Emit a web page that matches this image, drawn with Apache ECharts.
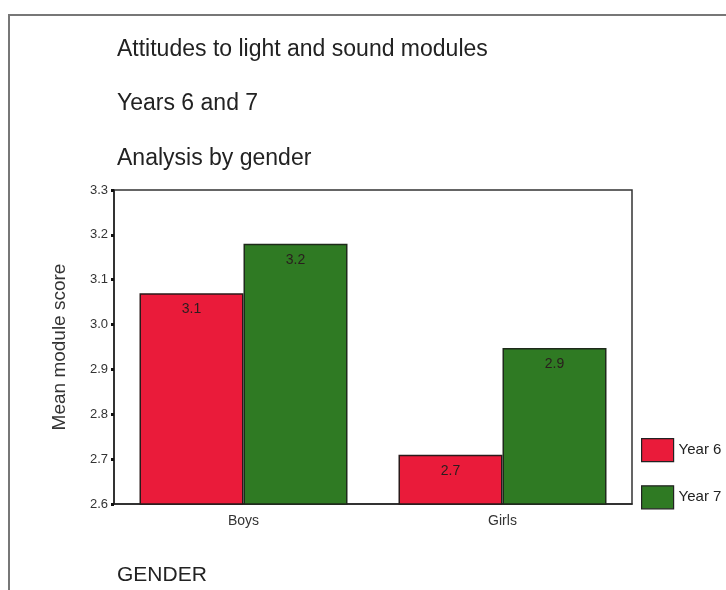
<!DOCTYPE html>
<html>
<head>
<meta charset="utf-8">
<script src="https://cdn.jsdelivr.net/npm/echarts@6/dist/echarts.min.js"></script>
<style>
html,body{margin:0;padding:0;background:#fff;}
#main{width:726px;height:590px;}
</style>
</head>
<body>
<div id="main"></div>
<script>
var categories = ['Boys', 'Girls'];
var seriesNames = ['Year 6', 'Year 7'];
var year6 = [3.07, 2.71];
var year7 = [3.18, 2.948];
var yTicks = ['2.6','2.7','2.8','2.9','3.0','3.1','3.2','3.3'];
var titles = ['Attitudes to light and sound modules', 'Years 6 and 7', 'Analysis by gender'];

var chart = echarts.init(document.getElementById('main'), null, {renderer: 'canvas'});
var font = 'Liberation Sans, Arial, sans-serif';
function lbl(){
  return {
    show: true, position: 'insideTop', distance: 9,
    color: '#2a1e1e', fontSize: 14, fontFamily: font,
    formatter: function(p){ return p.value.toFixed(1); }
  };
}
var tStyle = {fontSize: 23, fontWeight: 'normal', color: '#222', fontFamily: font};
var option = {
  animation: false,
  backgroundColor: '#fff',
  title: [
    {text: titles[0], left: 112, top: 33, textStyle: tStyle},
    {text: titles[1], left: 112, top: 87, textStyle: tStyle},
    {text: titles[2], left: 112, top: 142, textStyle: tStyle},
    {text: 'GENDER', left: 112, top: 560, textStyle: {fontSize: 21, fontWeight: 'normal', color: '#222', fontFamily: font}}
  ],
  graphic: [
    {type: 'polyline', shape: {points: [[9, 590], [9, 15], [726, 15]]}, style: {stroke: '#777', lineWidth: 2, fill: null}, silent: true}
  ],
  legend: {
    orient: 'vertical', left: 641, top: 438, padding: 0,
    itemWidth: 32, itemHeight: 23, itemGap: 23,
    icon: 'rect',
    data: seriesNames,
    textStyle: {fontSize: 15, color: '#222', fontFamily: font},
    itemStyle: {borderColor: '#222', borderWidth: 1.2}
  },
  grid: {left: 114, top: 190, width: 518, height: 314, show: true, borderColor: '#333', borderWidth: 1.5, backgroundColor: '#fff'},
  xAxis: {
    type: 'category', data: categories,
    axisLine: {lineStyle: {color: '#222', width: 1.5}},
    axisTick: {alignWithLabel: true, length: 3, lineStyle: {color: '#111', width: 3}},
    axisLabel: {fontSize: 14, color: '#333', margin: 10, fontFamily: font},
    splitLine: {show: false}
  },
  yAxis: {
    type: 'value', min: 2.6, max: 3.3, interval: 0.1,
    name: 'Mean module score', nameLocation: 'middle', nameGap: 45, nameRotate: 90,
    nameTextStyle: {fontSize: 19, color: '#333', fontFamily: font},
    axisLine: {show: true, lineStyle: {color: '#222', width: 1.5}},
    axisTick: {show: true, length: 3, lineStyle: {color: '#111', width: 3}},
    axisLabel: {fontSize: 13, color: '#333', margin: 6, fontFamily: font,
      formatter: function(v, i){ return yTicks[i]; }},
    splitLine: {show: false}
  },
  series: [
    {name: seriesNames[0], type: 'bar', data: year6, barWidth: 104, barGap: '0%',
     itemStyle: {color: '#ea1b3a', borderColor: '#2a1a1a', borderWidth: 1.5}, label: lbl()},
    {name: seriesNames[1], type: 'bar', data: year7, barWidth: 104,
     itemStyle: {color: '#2f7a23', borderColor: '#1e2a1a', borderWidth: 1.5}, label: lbl()}
  ]
};
chart.setOption(option);
</script>
</body>
</html>
